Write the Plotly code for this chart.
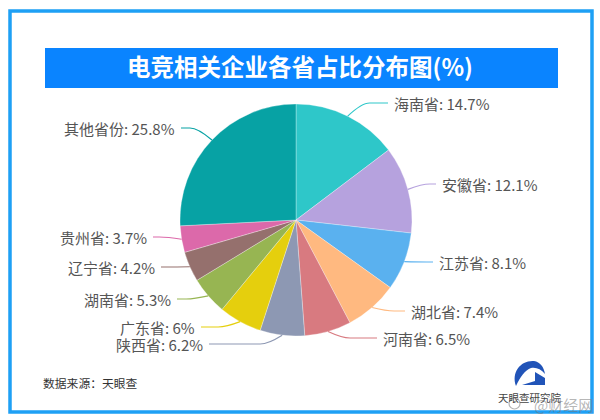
"""Pie of e-sports company share by province, with hand-routed label leaders."""
import math
import plotly.graph_objects as go

W, H = 600, 420
FONT = "Noto Sans CJK SC"

provinces = ["海南省", "安徽省", "江苏省", "湖北省", "河南省", "陕西省",
             "广东省", "湖南省", "辽宁省", "贵州省", "其他省份"]
shares = [14.7, 12.1, 8.1, 7.4, 6.5, 6.2, 6, 5.3, 4.2, 3.7, 25.8]
colors = ["#2ec7c9", "#b6a2de", "#5ab1ef", "#ffb980", "#d87a80", "#8d98b3",
          "#e5cf0d", "#97b552", "#95706d", "#dc69aa", "#07a2a4"]
# label anchor in page pixels (x end of the leader, y centre of the text)
label_x = [392, 440, 437, 409, 381, 205, 197, 173, 157, 149, 177]
label_y = [103, 184, 262, 311, 338, 344, 327, 299, 267, 237, 128]

CX, CY, R = 296, 220, 116


def px(x):
    return x / W


def py(y):
    return 1 - y / H


def note(text, x, y, size, color, xanchor="center", **font):
    return dict(text=text, x=px(x), y=py(y), xanchor=xanchor, yanchor="middle", showarrow=False,
                font=dict(family=FONT, size=size, color=color, **font))


fig = go.Figure(go.Pie(
    labels=provinces, values=shares, sort=False, direction="clockwise", rotation=0,
    marker=dict(colors=colors, line=dict(color="rgba(255,255,255,0.6)", width=0.5)),
    textinfo="none", hoverinfo="label+percent", showlegend=False,
    domain=dict(x=[px(CX - R), px(CX + R)], y=[py(CY + R), py(CY - R)]),
))

shapes = [
    dict(type="rect", xref="paper", yref="paper", x0=px(10), x1=px(592), y0=py(11), y1=py(412),
         line=dict(color="#1ea0f5", width=3.5), fillcolor="white", layer="below"),
    dict(type="rect", xref="paper", yref="paper", x0=px(45), x1=px(558), y0=py(48), y1=py(88),
         line=dict(width=0), fillcolor="#0a84ff", layer="below"),
]
annotations = [
    note("<b>电竞相关企业各省占比分布图(%)</b>", 300, 66, 23.5, "white"),
    note("数据来源：天眼查", 41, 382, 11.8, "#333333", xanchor="left"),
    note("天眼查研究院", 530, 397, 10.5, "#444444"),
    note("@财经网", 563, 404, 15, "rgba(120,120,120,0.55)"),
]

# leaders start at each slice's mid-angle, then bend horizontally towards the text
cum = 0
total = sum(shares)
for name, val, col, lx, ly in zip(provinces, shares, colors, label_x, label_y):
    mid = (cum + val / 2) / total * 2 * math.pi
    cum += val
    sx = CX + R * math.sin(mid)
    sy = CY - R * math.cos(mid)
    right = math.sin(mid) > 0
    sign = 1 if right else -1
    end = lx - 4 if right else lx + 4
    kx = (sx + end) / 2 if abs(end - sx) < 30 else sx + sign * 14
    path = (f"M {px(sx)} {py(sy)} Q {px(kx)} {py(ly)} {px(kx + sign * 8)} {py(ly)} "
            f"L {px(end)} {py(ly)}")
    shapes.append(dict(type="path", xref="paper", yref="paper", path=path,
                       line=dict(color=col, width=1.2)))
    annotations.append(note(f"{name}: {val}%", lx, ly, 15, "#555555",
                            xanchor="left" if right else "right"))

# logo mark and weibo ring
shapes += [
    dict(type="path", xref="paper", yref="paper", fillcolor="#2154b8", line=dict(width=0),
         path=f"M {px(516)} {py(386)} C {px(511)} {py(372)} {px(521)} {py(360)} {px(534)} {py(361)} "
              f"C {px(540)} {py(362)} {px(544)} {py(367)} {px(545)} {py(374)} "
              f"C {px(541)} {py(369)} {px(536)} {py(367)} {px(531)} {py(368)} "
              f"C {px(525)} {py(370)} {px(520)} {py(377)} {px(516)} {py(386)} Z"),
    dict(type="path", xref="paper", yref="paper", fillcolor="#2154b8", line=dict(width=0),
         path=f"M {px(535)} {py(372)} L {px(545)} {py(378)} L {px(545)} {py(385)} "
              f"L {px(522)} {py(385)} L {px(535)} {py(381)} Z"),
    dict(type="circle", xref="paper", yref="paper", x0=px(509), x1=px(520), y0=py(409), y1=py(398),
         line=dict(color="rgba(130,130,130,0.6)", width=1.2)),
]

fig.update_layout(width=W, height=H, margin=dict(l=0, r=0, t=0, b=0),
                  paper_bgcolor="white", shapes=shapes, annotations=annotations,
                  font=dict(family=FONT))
fig.write_html("out.html", config={"displayModeBar": False},
               post_script="document.body.style.margin='0';")
